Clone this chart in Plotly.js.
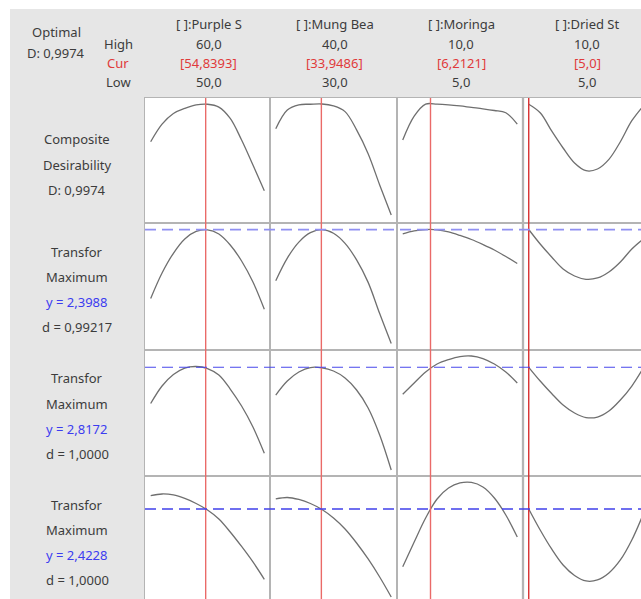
<!DOCTYPE html>
<html>
<head>
<meta charset="utf-8">
<script src="https://cdn.plot.ly/plotly-3.0.1.min.js"></script>
<style>
html,body{margin:0;padding:0;overflow:hidden;background:#fff;width:641px;height:599px;}
#chart{width:655px;height:610px;}
</style>
</head>
<body>
<div id="chart"></div>
<script>
// ---- data ----
const factors = ['[ ]:Purple S', '[ ]:Mung Bea', '[ ]:Moringa', '[ ]:Dried St'];
const highLabels = ['60,0', '40,0', '10,0', '10,0'];
const curLabels = ['[54,8393]', '[33,9486]', '[6,2121]', '[5,0]'];
const lowLabels = ['50,0', '30,0', '5,0', '5,0'];
const lowValues = [50, 30, 5, 5];
const highValues = [60, 40, 10, 10];
const curValues = [54.8393, 33.9486, 6.2121, 5.0];

const xPurple = [50, 51, 52, 53, 54, 55, 56, 57, 58, 59, 60];
const xMung = [30, 31, 32, 33, 34, 35, 36, 37, 38, 39, 40];
const xMoringa = [5, 5.5, 6, 6.5, 7, 7.5, 8, 8.5, 9, 9.5, 10];
const xDried = [5, 5.5, 6, 6.5, 7, 7.5, 8, 8.5, 9, 9.5, 10];

// Composite desirability
const compPurple = [0.665, 0.82, 0.914, 0.958, 0.989, 0.995, 0.97, 0.87, 0.68, 0.46, 0.234];
const compMung = [0.78, 0.945, 0.99, 0.995, 0.997, 0.98, 0.93, 0.77, 0.56, 0.285, 0.02];
const compMoringa = [0.68, 0.89, 0.996, 0.996, 0.99, 0.98, 0.967, 0.955, 0.94, 0.92, 0.82];
const compDried = [0.995, 0.92, 0.76, 0.61, 0.478, 0.41, 0.425, 0.51, 0.665, 0.85, 0.98];

// Response 1 (y = 2,3988)
const r1Purple = [1.711, 1.966, 2.163, 2.306, 2.381, 2.398, 2.356, 2.246, 2.086, 1.876, 1.603];
const r1Mung = [1.889, 2.115, 2.275, 2.369, 2.399, 2.363, 2.262, 2.097, 1.872, 1.56, 1.26];
const r1Moringa = [2.356, 2.386, 2.400, 2.398, 2.376, 2.341, 2.301, 2.251, 2.196, 2.131, 2.061];
const r1Dried = [2.401, 2.256, 2.126, 2.006, 1.936, 1.903, 1.916, 1.976, 2.076, 2.206, 2.306];

// Response 2 (y = 2,8172)
const r2Purple = [2.455, 2.630, 2.745, 2.810, 2.825, 2.805, 2.740, 2.600, 2.430, 2.220, 1.957];
const r2Mung = [2.540, 2.680, 2.770, 2.815, 2.812, 2.780, 2.710, 2.590, 2.410, 2.140, 1.790];
const r2Moringa = [2.547, 2.660, 2.770, 2.850, 2.895, 2.925, 2.930, 2.905, 2.850, 2.770, 2.660];
const r2Dried = [2.817, 2.680, 2.555, 2.440, 2.360, 2.315, 2.320, 2.380, 2.490, 2.630, 2.810];

// Response 3 (y = 2,4228)
const r3Purple = [2.556, 2.573, 2.563, 2.528, 2.478, 2.413, 2.323, 2.193, 2.048, 1.893, 1.720];
const r3Mung = [2.523, 2.538, 2.518, 2.478, 2.418, 2.333, 2.223, 2.083, 1.923, 1.743, 1.543];
const r3Moringa = [1.846, 2.093, 2.333, 2.523, 2.633, 2.683, 2.688, 2.643, 2.533, 2.363, 2.143];
const r3Dried = [2.423, 2.213, 2.023, 1.863, 1.758, 1.703, 1.713, 1.783, 1.913, 2.113, 2.373];

const predicted = [null, 2.3988, 2.8172, 2.4228];
const rowLabels = [
  ['Composite', 'Desirability', 'D: 0,9974'],
  ['Transfor', 'Maximum', 'y = 2,3988', 'd = 0,99217'],
  ['Transfor', 'Maximum', 'y = 2,8172', 'd = 1,0000'],
  ['Transfor', 'Maximum', 'y = 2,4228', 'd = 1,0000']
];
const optimalLabels = ['Optimal', 'D: 0,9974'];
const levelLabels = ['High', 'Cur', 'Low'];

// ---- layout geometry ----
const W = 655, H = 610;
const colEdges = [145, 270, 397, 523, 649];
const rowEdges = [98, 223, 350, 476, 602];
const xs = [xPurple, xMung, xMoringa, xDried];
const ys = [
  [compPurple, compMung, compMoringa, compDried],
  [r1Purple, r1Mung, r1Moringa, r1Dried],
  [r2Purple, r2Mung, r2Moringa, r2Dried],
  [r3Purple, r3Mung, r3Moringa, r3Dried]
];
const yRanges = [[-0.05, 1.05], [1.1958, 2.4658], [1.7302, 2.9902], [1.4928, 2.7528]];
const px = v => v / W;
const py = v => 1 - v / H;

const FONT = 'Noto Sans, Open Sans, sans-serif';
const TXT = '#3c3c3c', RED = '#e03a3a', BLUE = '#3c3cf0';

const traces = [];
const layout = {
  width: W, height: H,
  margin: {l: 0, r: 0, t: 0, b: 0},
  paper_bgcolor: '#ffffff', plot_bgcolor: 'rgba(0,0,0,0)',
  showlegend: false,
  shapes: [], annotations: [],
  font: {family: FONT, size: 13, color: TXT}
};

layout.shapes.push({type: 'rect', xref: 'paper', yref: 'paper', x0: px(10), x1: 1, y0: py(98), y1: py(9),
  fillcolor: '#e6e6e6', line: {width: 0}, layer: 'below'});
layout.shapes.push({type: 'rect', xref: 'paper', yref: 'paper', x0: px(10), x1: px(145), y0: 0, y1: py(98),
  fillcolor: '#e6e6e6', line: {width: 0}, layer: 'below'});
layout.shapes.push({type: 'line', xref: 'paper', yref: 'paper', x0: px(523), x1: px(523), y0: 0, y1: py(98),
  line: {color: '#d2d2d2', width: 2.5}, layer: 'below'});

for (let r = 0; r < 4; r++) {
  for (let c = 0; c < 4; c++) {
    const i = r * 4 + c + 1;
    const xa = i === 1 ? 'x' : 'x' + i;
    const ya = i === 1 ? 'y' : 'y' + i;
    const span = highValues[c] - lowValues[c];
    layout['xaxis' + (i === 1 ? '' : i)] = {
      domain: [px(colEdges[c]), px(colEdges[c + 1])],
      range: [lowValues[c] - 0.05 * span, highValues[c] + 0.05 * span],
      anchor: ya, showticklabels: false, ticks: '', showgrid: false, zeroline: false,
      showline: true, mirror: true, linecolor: '#b4b4b4', linewidth: 1, fixedrange: true
    };
    layout['yaxis' + (i === 1 ? '' : i)] = {
      domain: [py(rowEdges[r + 1]), py(rowEdges[r])],
      range: yRanges[r],
      anchor: xa, showticklabels: false, ticks: '', showgrid: false, zeroline: false,
      showline: true, mirror: true, linecolor: '#b4b4b4', linewidth: 1, fixedrange: true
    };
    traces.push({
      x: xs[c], y: ys[r][c], xaxis: xa, yaxis: ya, type: 'scatter', mode: 'lines',
      line: {color: '#6f6f6f', width: 1.3, shape: 'spline', smoothing: 1}, hoverinfo: 'skip'
    });
    layout.shapes.push({type: 'line', xref: xa, yref: ya + ' domain', x0: curValues[c], x1: curValues[c],
      y0: 0, y1: 1, line: {color: c === 3 ? '#d83030' : '#ea6a68', width: 1.4}});
  }
  if (predicted[r] !== null) {
    const ya = 'y' + (r * 4 + 1);
    const styles = [null, {color: '#9090f2', width: 1.8}, {color: '#4848ec', width: 1.1}, {color: '#4040ea', width: 1.5}];
    layout.shapes.push({type: 'line', xref: 'paper', yref: ya, x0: px(145), x1: 1,
      y0: predicted[r], y1: predicted[r],
      line: {color: styles[r].color, width: styles[r].width, dash: '11px,6px'}});
  }
}

function ann(text, x, y, color) {
  layout.annotations.push({text: text, xref: 'paper', yref: 'paper', x: px(x), y: py(y),
    xanchor: 'center', yanchor: 'middle', showarrow: false,
    font: {family: FONT, size: 13, color: color || TXT}});
}

ann(optimalLabels[0], 56, 32);
ann(optimalLabels[1], 56, 53);
ann(levelLabels[0], 118, 44);
ann(levelLabels[1], 118, 63, RED);
ann(levelLabels[2], 118, 82);
for (let c = 0; c < 4; c++) {
  const cx = (colEdges[c] + colEdges[c + 1]) / 2 + 1;
  ann(factors[c], cx, 24);
  ann(highLabels[c], cx, 44);
  ann(curLabels[c], cx, 63, RED);
  ann(lowLabels[c], cx, 82);
}
for (let r = 0; r < 4; r++) {
  const lines = rowLabels[r];
  const top = rowEdges[r];
  for (let k = 0; k < lines.length; k++) {
    const y = r === 0 ? top + 41 + k * 25.7 : top + 28.5 + k * 25;
    ann(lines[k], 77, y, (r > 0 && k === 2) ? BLUE : TXT);
  }
}

Plotly.newPlot('chart', traces, layout, {staticPlot: true, displayModeBar: false});
</script>
</body>
</html>
